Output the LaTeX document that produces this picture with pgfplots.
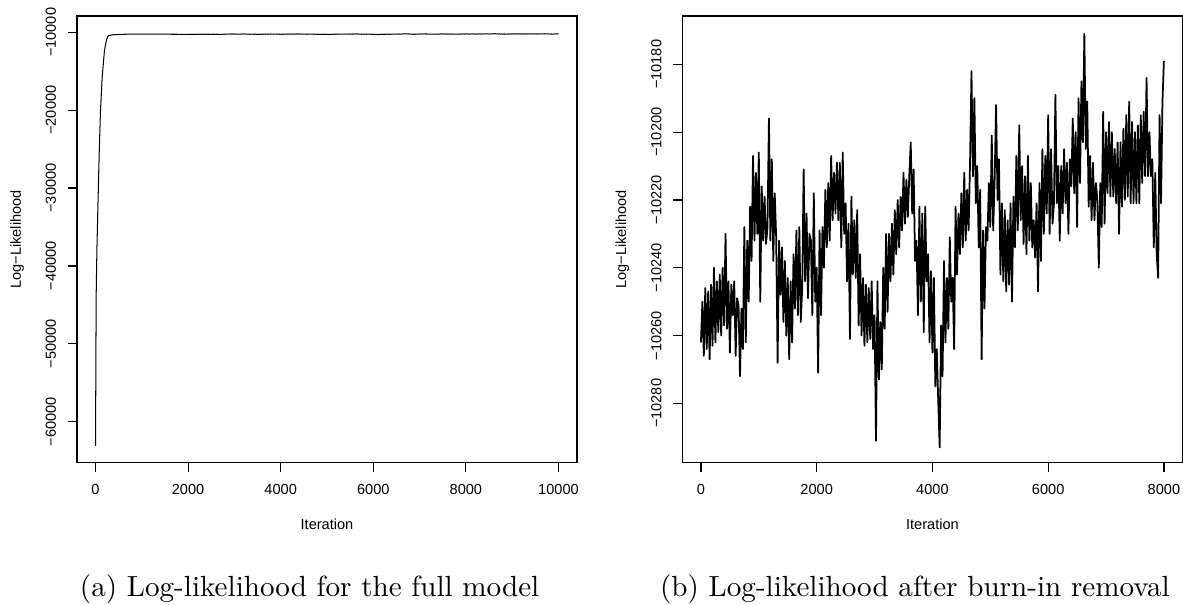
\documentclass[border=0pt]{standalone}
\usepackage{fontspec}
\newfontfamily\arial{Liberation Sans}
\usepackage{pgfplots}
\pgfplotsset{compat=1.18}
\usepackage{pgfplotstable}

% log-likelihood after burn-in removal, one value every 25 iterations (0..8000)
\pgfplotstableread[row sep=\\]{
v\\
-10262\\ -10250\\ -10266\\ -10246\\ -10264\\ -10247\\ -10267\\ -10245\\ -10263\\ -10240\\
-10262\\ -10244\\ -10259\\ -10242\\ -10260\\ -10240\\ -10257\\ -10230\\ -10258\\ -10244\\
-10265\\ -10245\\ -10254\\ -10244\\ -10266\\ -10249\\ -10251\\ -10272\\ -10252\\ -10264\\
-10228\\ -10262\\ -10232\\ -10250\\ -10222\\ -10238\\ -10207\\ -10232\\ -10212\\ -10230\\
-10206\\ -10250\\ -10216\\ -10232\\ -10219\\ -10233\\ -10228\\ -10196\\ -10232\\ -10208\\
-10238\\ -10218\\ -10231\\ -10268\\ -10232\\ -10248\\ -10234\\ -10256\\ -10238\\ -10260\\
-10243\\ -10267\\ -10244\\ -10262\\ -10236\\ -10252\\ -10229\\ -10254\\ -10228\\ -10256\\
-10246\\ -10211\\ -10244\\ -10224\\ -10249\\ -10230\\ -10232\\ -10254\\ -10218\\ -10250\\
-10240\\ -10271\\ -10229\\ -10254\\ -10228\\ -10240\\ -10217\\ -10234\\ -10215\\ -10232\\
-10207\\ -10226\\ -10212\\ -10224\\ -10209\\ -10226\\ -10209\\ -10234\\ -10206\\ -10230\\
-10221\\ -10244\\ -10227\\ -10261\\ -10219\\ -10242\\ -10226\\ -10243\\ -10223\\ -10257\\
-10236\\ -10260\\ -10243\\ -10263\\ -10245\\ -10262\\ -10246\\ -10261\\ -10244\\ -10264\\
-10254\\ -10291\\ -10244\\ -10273\\ -10256\\ -10270\\ -10240\\ -10258\\ -10230\\ -10253\\
-10230\\ -10244\\ -10227\\ -10242\\ -10223\\ -10236\\ -10220\\ -10234\\ -10219\\ -10229\\
-10212\\ -10227\\ -10214\\ -10225\\ -10213\\ -10203\\ -10224\\ -10211\\ -10238\\ -10232\\
-10254\\ -10222\\ -10250\\ -10224\\ -10259\\ -10222\\ -10244\\ -10236\\ -10262\\ -10241\\
-10265\\ -10243\\ -10275\\ -10264\\ -10279\\ -10293\\ -10257\\ -10272\\ -10238\\ -10262\\
-10243\\ -10258\\ -10231\\ -10250\\ -10243\\ -10264\\ -10222\\ -10242\\ -10224\\ -10236\\
-10218\\ -10234\\ -10212\\ -10232\\ -10217\\ -10229\\ -10209\\ -10182\\ -10213\\ -10190\\
-10221\\ -10210\\ -10234\\ -10217\\ -10267\\ -10229\\ -10252\\ -10228\\ -10232\\ -10215\\
-10228\\ -10201\\ -10229\\ -10214\\ -10192\\ -10220\\ -10208\\ -10242\\ -10221\\ -10244\\
-10223\\ -10247\\ -10226\\ -10245\\ -10221\\ -10250\\ -10219\\ -10234\\ -10207\\ -10229\\
-10198\\ -10226\\ -10210\\ -10233\\ -10213\\ -10236\\ -10207\\ -10232\\ -10215\\ -10234\\
-10226\\ -10237\\ -10221\\ -10247\\ -10215\\ -10238\\ -10205\\ -10230\\ -10207\\ -10224\\
-10195\\ -10230\\ -10205\\ -10227\\ -10221\\ -10189\\ -10221\\ -10210\\ -10232\\ -10210\\
-10224\\ -10205\\ -10221\\ -10209\\ -10230\\ -10208\\ -10216\\ -10196\\ -10218\\ -10200\\
-10228\\ -10190\\ -10215\\ -10185\\ -10203\\ -10171\\ -10205\\ -10191\\ -10222\\ -10207\\
-10226\\ -10209\\ -10226\\ -10215\\ -10220\\ -10240\\ -10215\\ -10228\\ -10194\\ -10227\\
-10200\\ -10218\\ -10197\\ -10219\\ -10200\\ -10219\\ -10205\\ -10221\\ -10203\\ -10230\\
-10203\\ -10222\\ -10199\\ -10220\\ -10195\\ -10219\\ -10191\\ -10221\\ -10197\\ -10221\\
-10200\\ -10221\\ -10198\\ -10221\\ -10195\\ -10215\\ -10194\\ -10213\\ -10184\\ -10213\\
-10200\\ -10213\\ -10208\\ -10234\\ -10212\\ -10236\\ -10243\\ -10195\\ -10221\\ -10191\\
-10179\\
}\chain

\pgfplotsset{
  rplot/.style={
    scale only axis, width=171.65pt, height=153.35pt, anchor=south west,
    axis line style={line width=0.4pt, black},
    tick align=outside, major tick length=3.19pt,
    tick style={line width=0.4pt, black},
    xtick pos=left, ytick pos=left,
    scaled ticks=false,
    every tick label/.append style={font=\arial\fontsize{5}{6}\selectfont, text=black},
    xticklabel style={anchor=center},
    yticklabel style={rotate=90, anchor=center},
    xticklabel shift=5.94pt,
    yticklabel shift=5.74pt,
    label style={font=\arial\fontsize{5}{6}\selectfont, text=black},
    xlabel style={at={(axis description cs:0.5,-0.1372)}, anchor=center},
    ylabel style={at={(axis description cs:-0.1200,0.5)}, anchor=center},
    xlabel={Iteration},
    ylabel={Log−Likelihood},
    clip=true,
  }
}

\begin{document}
\begin{tikzpicture}
\path[use as bounding box] (0,0) rectangle (406.12pt,207.35pt);

\begin{axis}[rplot, at={(26.43pt,48.51pt)},
  xmin=-400, xmax=10400, ymin=-65265, ymax=-7907,
  xtick={0,2000,4000,6000,8000,10000},
  xticklabels={0,2000,4000,6000,8000,10000},
  ytick={-60000,-50000,-40000,-30000,-20000,-10000},
  yticklabels={−60000,−50000,−40000,−30000,−20000,−10000}]
\addplot[black, line width=0.35pt, line join=round] coordinates {
 (1,-63100) (8,-52000) (15,-43500) (30,-38000) (50,-32800) (80,-25500)
 (108,-20000) (145,-15700) (194,-12300) (240,-10900) (274,-10440)
 (350,-10330) (500,-10270) (700,-10240) (1000,-10225) (1250,-10230)
 (1500,-10245) (1750,-10250) (2000,-10262)};
\addplot[black, line width=0.35pt, line join=round] table[x expr=2000+25*\coordindex, y=v] {\chain};
\end{axis}

\begin{axis}[rplot, at={(234.27pt,48.51pt)},
  xmin=-320, xmax=8320, ymin=-10297.5, ymax=-10165.75,
  xtick={0,2000,4000,6000,8000},
  xticklabels={0,2000,4000,6000,8000},
  ytick={-10280,-10260,-10240,-10220,-10200,-10180},
  yticklabels={−10280,−10260,−10240,−10220,−10200,−10180}]
\addplot[black, line width=0.6pt, line join=round] table[x expr=25*\coordindex, y=v] {\chain};
\end{axis}

\node[anchor=base, font=\fontsize{10}{12}\selectfont, inner sep=0pt] at (106.3pt,2.54pt) {(a) Log-likelihood for the full model};
\node[anchor=base, font=\fontsize{10}{12}\selectfont, inner sep=0pt] at (314.1pt,2.54pt) {(b) Log-likelihood after burn-in removal};
\end{tikzpicture}
\end{document}
